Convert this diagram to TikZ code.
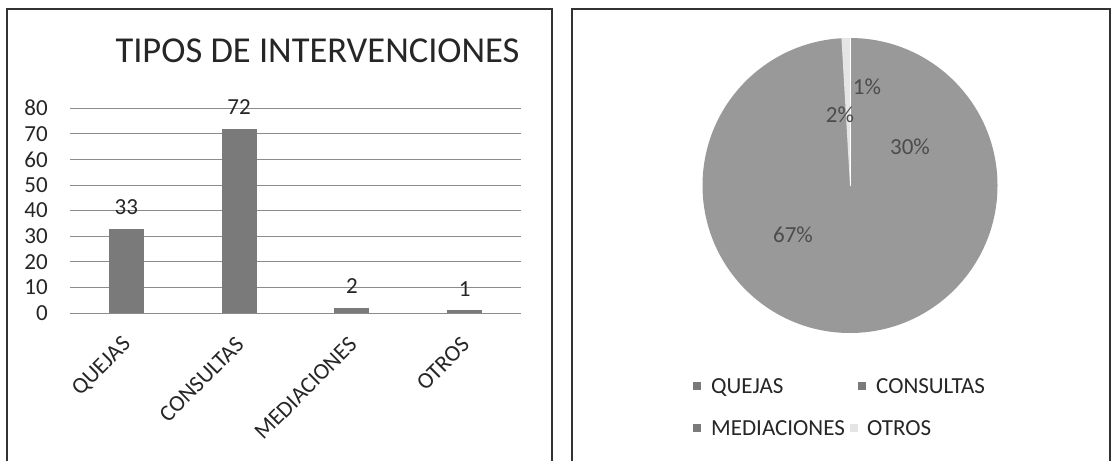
\documentclass[tikz,border=0pt]{standalone}
\usepackage{fontspec}
\setmainfont{Carlito}
\begin{document}
\begin{tikzpicture}[x=1pt,y=-1pt,
  every node/.style={inner sep=0pt, text=black!85},
  lbl/.style={font=\fontsize{23}{27}\selectfont},
  frame/.style={draw=black!80, line width=1.1pt},
  gridline/.style={draw=black!45, line width=0.7pt},
  barfill/.style={fill=black!52},
  piefill/.style={fill=black!40},
  otrosfill/.style={fill=black!10},
  pct/.style={lbl, text=black!70}]
\useasboundingbox (0,0) rectangle (1114,461);
\fill[white] (0,0) rectangle (1114,461);
% panels
\draw[frame] (7,461) -- (7,9) -- (552,9) -- (552,461);
\draw[frame] (572,461) -- (572,9) -- (1110,9) -- (1110,461);
% title
\node[anchor=base, font=\fontsize{36.5}{40}\selectfont] (title) at (317.5,62) {TIPOS DE INTERVENCIONES};
% grid and y axis
\foreach \v in {0,...,8} {
  \pgfmathtruncatemacro{\lab}{10*\v}
  \draw[gridline] (70,{313-25.6*\v}) -- (521,{313-25.6*\v});
  \node[lbl, anchor=east] (y\v) at (48,{313-25.6*\v}) {\lab};
}
% bars
\foreach \c/\val/\name in {126.4/33/QUEJAS, 239.1/72/CONSULTAS, 351.9/2/MEDIACIONES, 464.6/1/OTROS} {
  \fill[barfill] ({\c-17.5},313) rectangle ({\c+17.5},{313-2.56*\val});
  \node[lbl, anchor=base] (v\name) at (\c,{313-2.56*\val-14}) {\val};
  \node[lbl, rotate=45, anchor=east] (c\name) at ({\c+1},341) {\name};
}
% pie
\begin{scope}[shift={(850,185.5)}]
\begin{scope}[y=1pt]
  \fill[piefill] (0,0) circle[radius=147.5];
  \fill[otrosfill] (0,0) -- (93.33:147.5) arc[start angle=93.33, end angle=90, radius=147.5] -- cycle;
  \draw[white, line width=0.8pt] (0,0) -- (90:147.5);
\end{scope}
\end{scope}
\node[pct] (p1) at (867,87) {1\%};
\node[pct] (p2) at (840,115) {2\%};
\node[pct] (p30) at (910,147) {30\%};
\node[pct] (p67) at (793,235) {67\%};
% legend
\fill[barfill] (693,382) rectangle (701,390);
\node[lbl, anchor=base west] (lq) at (711,393) {QUEJAS};
\fill[barfill] (858,382) rectangle (866,390);
\node[lbl, anchor=base west] (lc) at (876,393) {CONSULTAS};
\fill[barfill] (693,424) rectangle (701,432);
\node[lbl, anchor=base west] (lm) at (711,435) {MEDIACIONES};
\fill[otrosfill] (850,424) rectangle (858,432);
\node[lbl, anchor=base west] (lo) at (867,435) {OTROS};
\end{tikzpicture}
\end{document}
